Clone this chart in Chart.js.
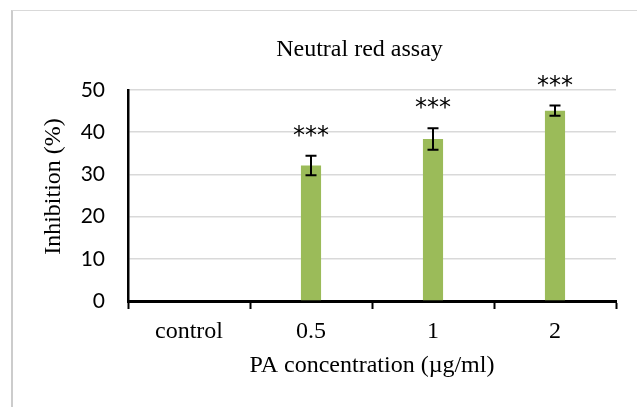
<!DOCTYPE html>
<html>
<head>
<meta charset="utf-8">
<script src="https://cdn.jsdelivr.net/npm/chart.js@4/dist/chart.umd.min.js"></script>
<style>
html, body { margin: 0; padding: 0; background: #fff; overflow: hidden; }
#frame {
    position: absolute; left: 11px; top: 10px; width: 720px; height: 430px;
    border-left: 2px solid #cccccc; border-top: 1px solid #d9d9d9;
}
#frame canvas { display: block; }
</style>
</head>
<body>
<div id="frame"><canvas id="chart" width="693" height="396"></canvas></div>
<script>
const categories = ["control", "0.5", "1", "2"];
const inhibition = [0, 32.1, 38.4, 45.1];
const inhibitionErr = [0, 2.3, 2.55, 1.2];
const significance = ["", "***", "***", "***"];
const yTicks = [0, 10, 20, 30, 40, 50];

const serif = "'Liberation Serif', 'Times New Roman', serif";

// error bars + significance stars, placed through the y scale
const errorBars = {
    id: "errorBars",
    afterDatasetsDraw(chart) {
        const ctx = chart.ctx;
        const y = chart.scales.y;
        const meta = chart.getDatasetMeta(0);
        ctx.save();
        ctx.strokeStyle = "#000";
        ctx.lineWidth = 2;
        meta.data.forEach((bar, i) => {
            const hi = y.getPixelForValue(inhibition[i] + inhibitionErr[i]);
            const lo = y.getPixelForValue(inhibition[i] - inhibitionErr[i]);
            const cap = 5.5;
            ctx.beginPath();
            ctx.moveTo(bar.x, hi); ctx.lineTo(bar.x, lo);
            ctx.moveTo(bar.x - cap, hi); ctx.lineTo(bar.x + cap, hi);
            ctx.moveTo(bar.x - cap, lo); ctx.lineTo(bar.x + cap, lo);
            ctx.stroke();
            if (significance[i]) {
                ctx.fillStyle = "#000";
                ctx.font = "24px 'DejaVu Sans', sans-serif";
                ctx.textAlign = "center";
                ctx.textBaseline = "alphabetic";
                ctx.fillText(significance[i], bar.x, hi - 13);
            }
        });
        ctx.restore();
    }
};

Chart.defaults.color = "#000";

new Chart(document.getElementById("chart"), {
    type: "bar",
    data: {
        labels: categories,
        datasets: [{
            data: inhibition,
            backgroundColor: "#9bbb59",
            borderWidth: 0,
            categoryPercentage: 1,
            barPercentage: 0.165
        }]
    },
    options: {
        responsive: false,
        animation: false,
        layout: { padding: 0 },
        plugins: {
            legend: { display: false },
            tooltip: { enabled: false },
            title: {
                display: true,
                text: "Neutral red assay",
                color: "#000",
                font: { family: serif, size: 24, weight: "normal", lineHeight: 1.2 },
                padding: { top: 24.6, bottom: 25.6 }
            }
        },
        scales: {
            x: {
                grid: {
                    drawOnChartArea: false, drawTicks: true, tickLength: 8,
                    tickColor: "#000", tickWidth: 2
                },
                border: { display: true, color: "#000", width: 3 },
                ticks: { font: { family: serif, size: 24 }, color: "#000", padding: 8 },
                title: {
                    display: true,
                    text: "PA concentration (µg/ml)",
                    color: "#000",
                    font: { family: serif, size: 24, lineHeight: 1.2 },
                    padding: { top: 27.3, bottom: 27.3 }
                },
                afterFit(scale) { scale.height = 106; }
            },
            y: {
                min: 0,
                max: 50,
                afterBuildTicks(scale) { scale.ticks = yTicks.map(v => ({ value: v })); },
                grid: { color: "#d9d9d9", lineWidth: 1.5, drawTicks: false },
                border: { display: true, color: "#000", width: 2.5 },
                ticks: { font: { family: "Lato", size: 21 }, color: "#000", padding: 23 },
                title: {
                    display: true,
                    // leading spaces lift the rotated title a little, as in the original
                    text: "   Inhibition (%)",
                    color: "#000",
                    font: { family: serif, size: 24, lineHeight: 1.2 },
                    padding: { top: 26.6, bottom: 26.6 }
                },
                afterFit(scale) { scale.width = 115; }
            },
            // empty right-hand axis: keeps room to the right of the plot like the original frame
            spacer: {
                type: "linear",
                position: "right",
                display: true,
                grid: { display: false },
                border: { display: false },
                ticks: { display: false },
                afterFit(scale) { scale.width = 90; }
            }
        }
    },
    plugins: [errorBars]
});
</script>
</body>
</html>
